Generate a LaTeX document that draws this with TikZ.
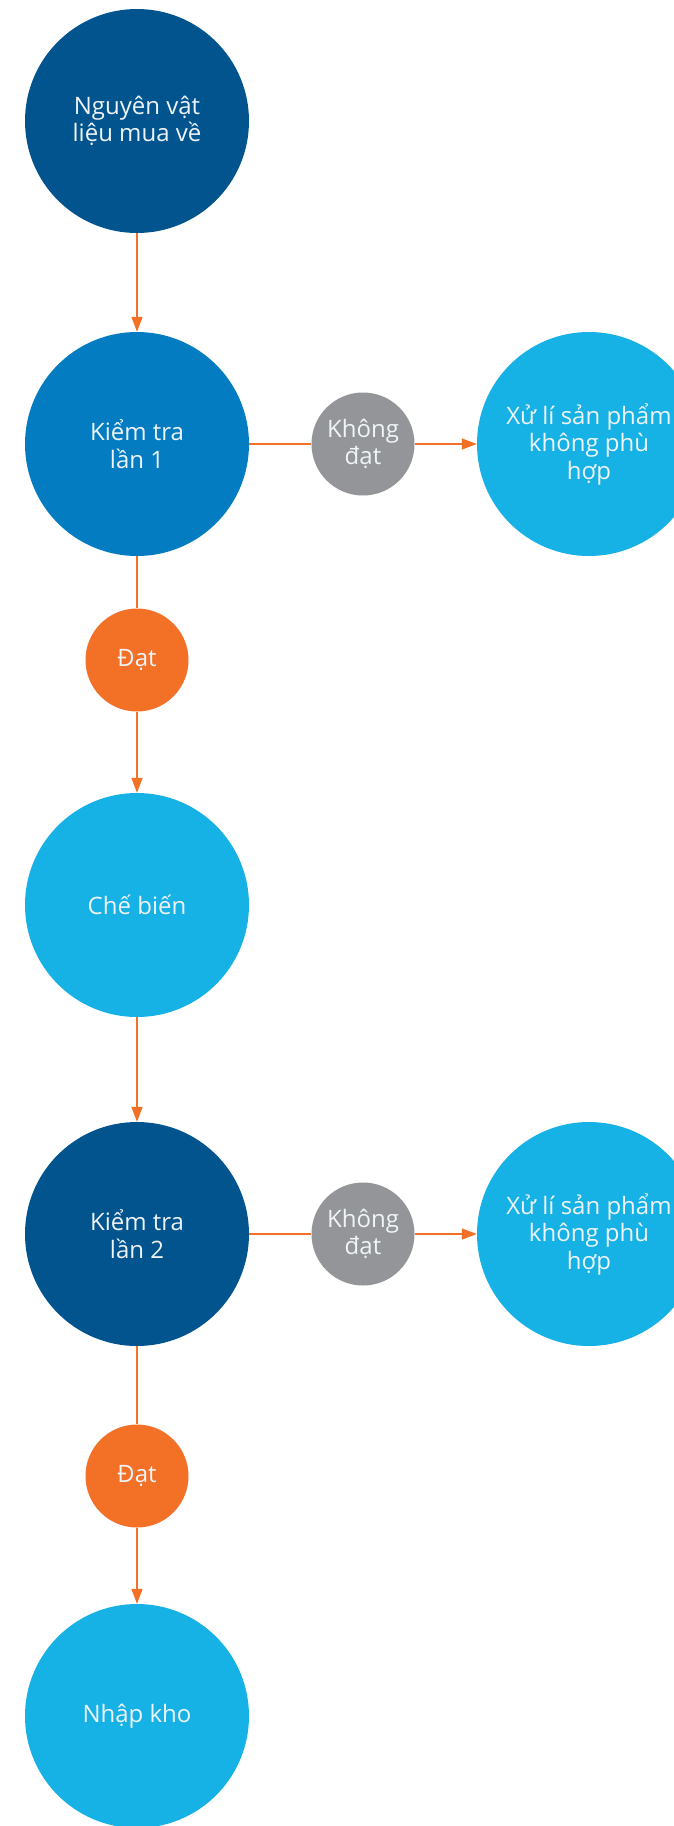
\documentclass[tikz,border=0pt]{standalone}
\usepackage{fontspec}
\setmainfont{Open Sans}
\usetikzlibrary{arrows.meta}
\definecolor{darkblue}{HTML}{02548F}
\definecolor{midblue}{HTML}{037CC2}
\definecolor{lightblue}{HTML}{16B1E5}
\definecolor{greyc}{HTML}{939598}
\definecolor{orangec}{HTML}{F37027}
\definecolor{txtc}{HTML}{EEF4F8}
\begin{document}
\begin{tikzpicture}[x=1pt,y=-1pt,
  big/.style={circle,minimum size=224pt,inner sep=0pt,align=center,text=txtc,
    font=\fontsize{24}{27.5}\selectfont},
  small/.style={circle,minimum size=103pt,inner sep=0pt,align=center,text=txtc,
    font=\fontsize{24}{27.5}\selectfont},
  conn/.style={draw=orangec,line width=1.3pt},
  arr/.style={conn,-{Triangle[length=15pt,width=11pt]}}]
\fill[white] (0,0) rectangle (674,1826);
\useasboundingbox (0,0) rectangle (674,1826);
\node[big,fill=darkblue] (nvl) at (137,121) {Nguyên vật\\liệu mua về};
\node[big,fill=midblue] (kt1) at (137,444) {Kiểm tra\\lần 1};
\node[small,fill=greyc] (kd1) at (363,444) {Không\\đạt};
\node[big,fill=lightblue] (xl1) at (589,444) {Xử lí sản phẩm\\không phù\\hợp};
\node[small,fill=orangec] (d1) at (137,660) {Đạt};
\node[big,fill=lightblue] (cb) at (137,905) {Chế biến};
\node[big,fill=darkblue] (kt2) at (137,1234) {Kiểm tra\\lần 2};
\node[small,fill=greyc] (kd2) at (363,1234) {Không\\đạt};
\node[big,fill=lightblue] (xl2) at (589,1234) {Xử lí sản phẩm\\không phù\\hợp};
\node[small,fill=orangec] (d2) at (137,1476) {Đạt};
\node[big,fill=lightblue] (nk) at (137,1716) {Nhập kho};
\draw[arr] (nvl) -- (kt1);
\draw[conn] (kt1) -- (kd1);
\draw[arr] (kd1) -- (xl1);
\draw[conn] (kt1) -- (d1);
\draw[arr] (d1) -- (cb);
\draw[arr] (cb) -- (kt2);
\draw[conn] (kt2) -- (kd2);
\draw[arr] (kd2) -- (xl2);
\draw[conn] (kt2) -- (d2);
\draw[arr] (d2) -- (nk);
\end{tikzpicture}
\end{document}
